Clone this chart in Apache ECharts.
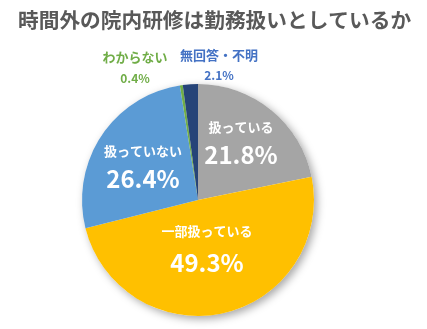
<!DOCTYPE html>
<html>
<head>
<meta charset="utf-8">
<script src="https://cdn.jsdelivr.net/npm/echarts@6/dist/echarts.min.js"></script>
<style>
  html, body { margin: 0; padding: 0; background: #fff; }
  #chart { width: 427px; height: 329px; }
</style>
</head>
<body>
<div id="chart"></div>
<script>
// Survey answers, clockwise from 12 o'clock
const categories = ['扱っている', '一部扱っている', '扱っていない', 'わからない', '無回答・不明'];
const shares = [21.8, 49.3, 26.4, 0.4, 2.1];
const sliceColors = ['#A5A5A5', '#FFC000', '#5B9BD5', '#70AD47', '#264478'];

// Label anchors (x centre, top y) and styling per slice
const labelAnchors = [[241, 115.5], [207, 219.5], [143, 139.5], [135, 48.5], [219, 46]];
const labelInside = [true, true, true, false, false];
const outsideLabelColors = { 'わからない': '#70AD47', '無回答・不明': '#4472C4' };

const FONT = '"Noto Sans CJK JP", "Noto Sans", sans-serif';

const chart = echarts.init(document.getElementById('chart'), null, { renderer: 'canvas' });

const pieData = categories.map((name, i) => {
  const inside = labelInside[i];
  const col = inside ? '#FFFFFF' : outsideLabelColors[name];
  const valueKey = i === 1 ? 'vb' : 'v';
  return {
    name: name,
    value: shares[i],
    itemStyle: { color: sliceColors[i] },
    label: {
      formatter: inside ? '{n|{b}}\n{' + valueKey + '|{c}%}' : '{on|{b}}\n{ov|{c}%}',
      rich: {
        n: { fontFamily: FONT, fontSize: 13, fontWeight: 'bold', color: col, lineHeight: 24, align: 'center' },
        v: { fontFamily: FONT, fontSize: 24, fontWeight: 'bold', color: col, lineHeight: 31, align: 'center' },
        vb: { fontFamily: FONT, fontSize: 24, fontWeight: 'bold', color: col, lineHeight: 38, align: 'center' },
        on: { fontFamily: FONT, fontSize: 13, fontWeight: 'bold', color: col, lineHeight: 18, align: 'center' },
        ov: { fontFamily: FONT, fontSize: 12, fontWeight: 'bold', color: col, lineHeight: 23, align: 'center' }
      }
    }
  };
});

chart.setOption({
  animation: false,
  backgroundColor: '#FFFFFF',
  title: {
    text: '時間外の院内研修は勤務扱いとしているか',
    left: 13,
    top: 5,
    textStyle: { fontFamily: FONT, fontSize: 20.7, fontWeight: 'bold', color: '#595959' }
  },
  series: [
    {
      // soft drop shadow under the whole pie
      type: 'pie',
      silent: true,
      center: [198, 200],
      radius: 116,
      label: { show: false },
      labelLine: { show: false },
      itemStyle: {
        color: '#FFFFFF',
        shadowBlur: 8,
        shadowOffsetX: 3,
        shadowOffsetY: 3,
        shadowColor: 'rgba(0,0,0,0.35)'
      },
      data: [{ value: 1, name: '' }],
      z: 1
    },
    {
      type: 'pie',
      center: [198, 200],
      radius: 116,
      startAngle: 90,
      clockwise: true,
      avoidLabelOverlap: false,
      label: { show: true, position: 'inside' },
      labelLine: { show: false },
      labelLayout: function (params) {
        const a = labelAnchors[params.dataIndex];
        return { x: a[0], y: a[1], align: 'center', verticalAlign: 'top', hideOverlap: false };
      },
      emphasis: { disabled: true },
      data: pieData,
      z: 2
    }
  ]
});
</script>
</body>
</html>
